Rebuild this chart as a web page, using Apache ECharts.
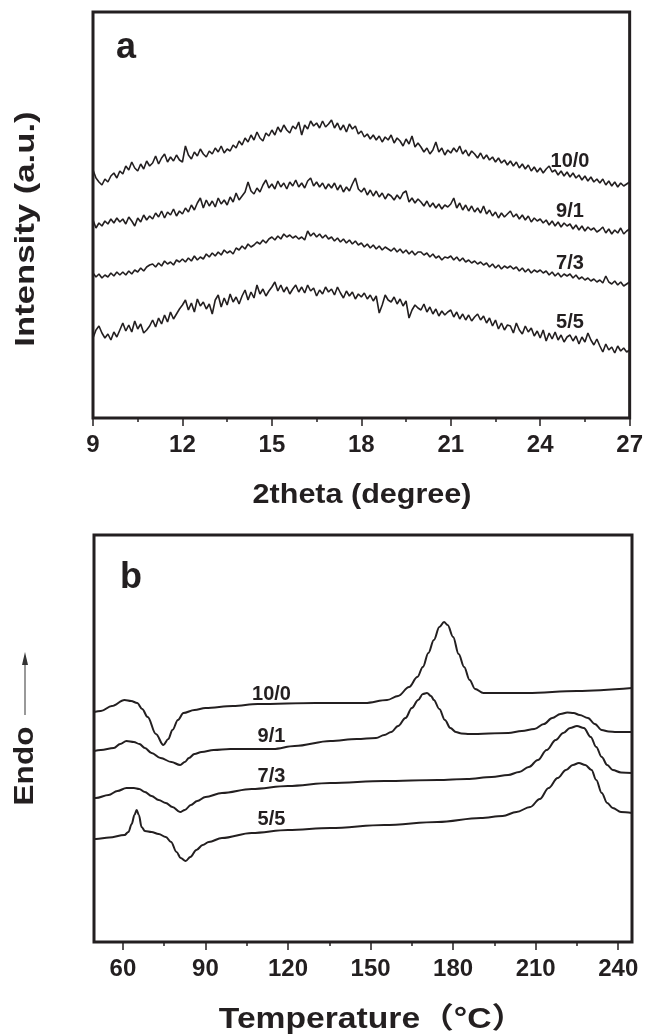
<!DOCTYPE html>
<html>
<head>
<meta charset="utf-8">
<script src="https://cdn.jsdelivr.net/npm/echarts@6/dist/echarts.min.js"></script>
<style>
html,body{margin:0;padding:0;background:#fff;}
#chart{width:646px;height:1035px;}
</style>
</head>
<body>
<div id="chart"></div>
<script>
// ---------- DATA ----------
// Panel a: XRD, 2theta (degree), step 0.1
const theta = [9,9.1,9.2,9.3,9.4,9.5,9.6,9.7,9.8,9.9,10,10.1,10.2,10.3,10.4,10.5,10.6,10.7,10.8,10.9,11,11.1,11.2,11.3,11.4,11.5,11.6,11.7,11.8,11.9,12,12.1,12.2,12.3,12.4,12.5,12.6,12.7,12.8,12.9,13,13.1,13.2,13.3,13.4,13.5,13.6,13.7,13.8,13.9,14,14.1,14.2,14.3,14.4,14.5,14.6,14.7,14.8,14.9,15,15.1,15.2,15.3,15.4,15.5,15.6,15.7,15.8,15.9,16,16.1,16.2,16.3,16.4,16.5,16.6,16.7,16.8,16.9,17,17.1,17.2,17.3,17.4,17.5,17.6,17.7,17.8,17.9,18,18.1,18.2,18.3,18.4,18.5,18.6,18.7,18.8,18.9,19,19.1,19.2,19.3,19.4,19.5,19.6,19.7,19.8,19.9,20,20.1,20.2,20.3,20.4,20.5,20.6,20.7,20.8,20.9,21,21.1,21.2,21.3,21.4,21.5,21.6,21.7,21.8,21.9,22,22.1,22.2,22.3,22.4,22.5,22.6,22.7,22.8,22.9,23,23.1,23.2,23.3,23.4,23.5,23.6,23.7,23.8,23.9,24,24.1,24.2,24.3,24.4,24.5,24.6,24.7,24.8,24.9,25,25.1,25.2,25.3,25.4,25.5,25.6,25.7,25.8,25.9,26,26.1,26.2,26.3,26.4,26.5,26.6,26.7,26.8,26.9,27];
const xrd_10_0 = [248,240,236,233,239,236,242,245,240,247, 244,252,248,256,250,247,254,249,257,252, 255,262,254,260,264,256,261,257,263,258, 256,272,263,259,266,262,269,264,261,267, 264,270,266,272,265,269,267,273,270,277, 273,280,276,283,278,286,280,277,285,282, 288,283,291,286,293,288,285,292,289,296, 283,293,289,297,292,295,290,297,291,294, 298,290,295,288,293,286,294,289,292,284, 287,281,284,279,283,278,282,276,281,278, 283,275,280,277,272,279,274,282,271,275, 271,266,270,264,268,276,266,270,263,268, 265,270,266,272,264,268,262,267,264,260, 265,259,263,258,261,256,260,255,258,253, 257,252,256,250,254,249,253,247,251,246, 250,245,249,252,246,248,243,247,242,246, 241,245,240,243,238,242,237,241,236,239, 235,239,233,237,232,236,231,235,232,234, 236];
const xrd_9_1 = [198,190,195,192,197,194,199,195,200,196, 199,194,201,197,192,200,196,203,198,202, 199,205,201,207,200,206,203,209,202,207, 204,210,206,213,208,215,220,210,218,212, 217,211,220,214,218,213,221,216,225,218, 222,226,236,227,224,230,226,233,238,230, 234,229,237,231,235,229,236,232,238,231, 235,230,237,240,232,236,231,235,229,234, 230,235,228,233,226,231,227,234,240,229, 226,230,223,228,222,227,221,225,219,224, 222,218,223,219,225,227,216,220,215,219, 216,212,217,211,215,210,214,209,213,211, 214,220,210,215,208,213,207,212,206,210, 205,212,204,208,202,206,200,205,201,204, 207,201,204,199,203,198,202,196,200,197, 199,195,198,193,197,192,196,191,195,192, 194,189,193,188,192,187,191,188,190,186, 188,191,185,189,184,188,185,190,184,187, 189];
const xrd_7_3 = [145,141,144,140,143,141,145,142,146,143, 146,143,147,144,148,146,150,147,151,153, 154,151,155,152,157,154,156,153,158,156, 159,156,160,157,162,158,161,159,164,161, 165,162,166,163,168,165,167,164,170,168, 172,169,174,171,173,176,174,178,175,179, 181,178,182,179,184,181,183,180,182,179, 181,178,187,182,185,181,184,180,183,179, 181,177,180,176,179,175,178,174,177,173, 175,171,174,170,173,169,172,168,171,169, 167,170,166,169,165,168,164,167,163,166, 166,163,165,161,164,160,162,158,161,160, 162,158,161,157,160,156,158,155,157,154, 156,153,155,151,154,150,153,149,152,150, 152,149,151,147,150,146,149,145,148,146, 148,145,147,143,146,142,145,141,144,142, 144,140,143,139,141,138,140,137,139,136, 138,135,142,136,134,137,133,136,132,134, 136];
const xrd_5_5 = [80,88,92,85,80,84,78,86,81,88, 95,87,93,86,97,89,94,85,88,92, 98,91,100,94,103,96,106,99,104,109, 113,118,108,115,106,119,112,116,109,114, 104,118,123,111,120,113,124,116,121,114, 122,128,118,126,120,133,124,129,122,127, 131,136,127,133,126,131,124,129,133,126, 131,125,133,127,130,122,128,124,131,126, 129,123,131,125,120,127,122,126,119,124, 121,125,119,123,117,122,105,113,123,118, 116,121,114,119,112,117,100,108,113,110, 108,114,106,111,104,109,102,107,103,106, 108,101,106,99,104,98,103,97,101,104, 98,102,95,100,92,98,89,95,88,93, 92,85,95,88,84,92,86,90,82,87, 80,88,77,85,79,86,78,83,76,81, 83,77,82,74,81,76,85,78,73,79, 72,66,74,68,71,65,72,67,70,66, 68];
const xrdNames = ['10/0','9/1','7/3','5/5'];
const xTicksA = [9,12,15,18,21,24,27];

// Panel b: DSC, [Temperature (°C), heat flow (a.u.)]
const dsc_10_0 = [[49.5,230],[52,231],[56,236],[60.6,242],[63,241],[65.2,239],[67,233],[69,225],[72,208],[74.7,197],[76.5,203],[78,212],[80,222],[82,229],[86,232],[90,234],[100,236],[109,238],[130,239],[148,239],[156,242],[160,246],[164,255],[167,265],[169,275],[171,289],[173,302],[175,315],[176.7,320],[178,317],[180,305],[182,288],[184,275],[186,262],[188,253],[191,249],[200,249],[207,249],[225,251],[245,254]];
const dsc_9_1 = [[49.5,191],[52,192],[56.7,194],[59,198],[61.3,201],[64,200],[66,198],[68,194],[70.4,189],[73.7,184],[77.6,180],[80.8,177],[82.5,180],[84,184],[86,188],[88.6,190],[93,192],[99,193],[107,193],[114.6,193],[122.4,196],[135.4,201],[145,203],[152,204],[155,207],[157.5,210],[160,216],[162.7,224],[165,234],[167.3,242],[169,248],[170.5,249],[172,246],[173,242],[175,233],[177,222],[179,214],[181,210],[183,208.5],[186,208],[200,209],[205,211],[209.5,213],[213,218],[216,224],[219,228],[221.5,229.5],[223.8,229],[226,227],[229,224],[231.5,218],[234,212],[236.5,210.5],[239.4,210],[245,210]];
const dsc_7_3 = [[49.5,144],[50.2,144],[54.8,147],[58,151],[61.3,154],[64,154],[65.9,153],[68,150],[70.4,146],[73,142],[75.6,139],[78,135],[80.8,130],[82.5,132],[84.7,137],[87,141],[90,145],[96,149],[106.8,153],[120,156],[135.4,159],[155,161],[174.4,162],[185,163],[194,165],[200,167],[204,170],[207.5,175],[210.8,182],[214,192],[217.3,202],[220,209],[222.5,214],[225,216],[227.5,214],[230,205],[232,195],[234,185],[236,177],[238,172],[241,169.5],[245,169]];
const dsc_5_5 = [[49.5,103],[50.2,103],[55,104.5],[60.6,107],[62,110],[63.2,118],[64.2,127],[65,132],[65.8,127],[66.8,115],[68,111],[70.4,110],[73,108],[75.6,105],[77.5,100],[79.5,90],[81,84],[82.8,81],[84.5,85],[86.7,92],[89,97],[91.2,100],[96,104],[106.8,109],[120,112],[135.4,114],[155,117],[174.4,120],[190,124],[198,126],[203,130],[208,135],[211.5,143],[214.7,154],[218,164],[221,172],[223.5,177],[225.7,179],[228,177],[230.3,172],[232,162],[234,149],[236,139],[238,134],[241,130],[245,129]];
const dscNames = ['10/0','9/1','7/3','5/5'];
const xTicksB = [60,90,120,150,180,210,240];
const xMinorB = [75,105,135,165,195,225];

// ---------- CHART ----------
const FONT = '"Liberation Sans", Arial, "Noto Sans CJK SC", sans-serif';
const INK = '#231f20';
const chart = echarts.init(document.getElementById('chart'), null, {renderer: 'canvas'});

function pair(xs, ys){ return xs.map((x, i) => [x, ys[i]]); }
const xrdSets = [xrd_10_0, xrd_9_1, xrd_7_3, xrd_5_5];
const xrdLabelCoords = [[25.0,257],[25.0,207],[25.0,155],[25.0,96]];
const dscSets = [dsc_10_0, dsc_9_1, dsc_7_3, dsc_5_5];
const dscLabelCoords = [[114,248],[114,206],[114,166],[114,123]];

function labelSeries(names, coords, xi, yi){
  return {
    type: 'scatter', xAxisIndex: xi, yAxisIndex: yi, silent: true, animation: false,
    symbolSize: 0.5, itemStyle: {color: INK, opacity: 1},
    z: 5,
    data: names.map((n, i) => ({name: n, value: coords[i]})),
    label: {show: true, position: 'inside', formatter: p => p.name, color: INK, opacity: 1,
      textBorderWidth: 0, fontFamily: FONT, fontWeight: 'bold', fontSize: 20}
  };
}

const series = [];
xrdSets.forEach((ys, i) => {
  series.push({
    type: 'line', name: 'XRD ' + xrdNames[i], xAxisIndex: 0, yAxisIndex: 0,
    data: pair(theta, ys), showSymbol: false, symbol: 'none', animation: false,
    lineStyle: {color: INK, width: 1.6}
  });
});
dscSets.forEach((d, i) => {
  series.push({
    type: 'line', name: 'DSC ' + dscNames[i], xAxisIndex: 1, yAxisIndex: 1,
    data: d, showSymbol: false, symbol: 'none', animation: false,
    smooth: 0.35, smoothMonotone: 'x',
    lineStyle: {color: INK, width: 2}
  });
});
series.push(labelSeries(xrdNames, xrdLabelCoords, 0, 0));
series.push(labelSeries(dscNames, dscLabelCoords, 1, 1));

const axisLabelStyle = {color: INK, fontFamily: FONT, fontWeight: 'bold', fontSize: 24, margin: 15};

chart.setOption({
  backgroundColor: '#fff',
  animation: false,
  grid: [
    {left: 93, top: 12, width: 539, height: 406, show: true, borderColor: INK, borderWidth: 3},
    {left: 94, top: 535, width: 538, height: 407, show: true, borderColor: INK, borderWidth: 3}
  ],
  xAxis: [
    {gridIndex: 0, type: 'value', min: 9, max: 27, interval: 3,
      axisLine: {show: false}, splitLine: {show: false},
      axisTick: {show: true, inside: false, length: 8, lineStyle: {color: INK, width: 1.5}},
      minorTick: {show: true, splitNumber: 2, length: 4, lineStyle: {color: INK, width: 1.5}},
      axisLabel: Object.assign({}, axisLabelStyle, {customValues: xTicksA})},
    {gridIndex: 1, type: 'value', min: 49.5, max: 245,
      axisLine: {show: false}, splitLine: {show: false},
      axisTick: {show: true, inside: false, length: 8, customValues: xTicksB, lineStyle: {color: INK, width: 1.5}},
      axisLabel: Object.assign({}, axisLabelStyle, {customValues: xTicksB})},
    {gridIndex: 1, type: 'value', min: 49.5, max: 245, position: 'bottom',
      axisLine: {show: false}, splitLine: {show: false},
      axisTick: {show: true, inside: false, length: 4, customValues: xMinorB, lineStyle: {color: INK, width: 1.5}},
      axisLabel: {show: false}}
  ],
  yAxis: [
    {gridIndex: 0, type: 'value', min: 0, max: 406, show: true,
      axisLine: {show: false}, axisTick: {show: false}, axisLabel: {show: false}, splitLine: {show: false}},
    {gridIndex: 1, type: 'value', min: 0, max: 407, show: true,
      axisLine: {show: false}, axisTick: {show: false}, axisLabel: {show: false}, splitLine: {show: false}}
  ],
  graphic: [
    {type: 'text', left: 116, top: 30, style: {text: 'a', fill: INK, font: 'bold 36px ' + FONT}},
    {type: 'text', left: 120, top: 560, style: {text: 'b', fill: INK, font: 'bold 36px ' + FONT}},
    {type: 'text', x: 362, y: 495, scaleX: 1.09,
      style: {text: '2theta (degree)', fill: INK, font: 'bold 28px ' + FONT, align: 'center', verticalAlign: 'middle'}},
    {type: 'text', x: 372, y: 1020, scaleX: 1.16,
      style: {text: 'Temperature（°C）', fill: INK, font: 'bold 29px ' + FONT, align: 'center', verticalAlign: 'middle'}},
    {type: 'text', x: 26, y: 229, rotation: Math.PI / 2, scaleX: 1.24,
      style: {text: 'Intensity (a.u.)', fill: INK, font: 'bold 28px ' + FONT, align: 'center', verticalAlign: 'middle'}},
    {type: 'text', x: 25, y: 766, rotation: Math.PI / 2, scaleX: 1.13,
      style: {text: 'Endo', fill: INK, font: 'bold 28px ' + FONT, align: 'center', verticalAlign: 'middle'}},
    {type: 'line', shape: {x1: 25, y1: 715, x2: 25, y2: 662}, style: {stroke: '#555', lineWidth: 1.2}},
    {type: 'polygon', shape: {points: [[25, 652], [22, 665], [28, 665]]}, style: {fill: '#333'}}
  ],
  series: series
});
</script>
</body>
</html>
